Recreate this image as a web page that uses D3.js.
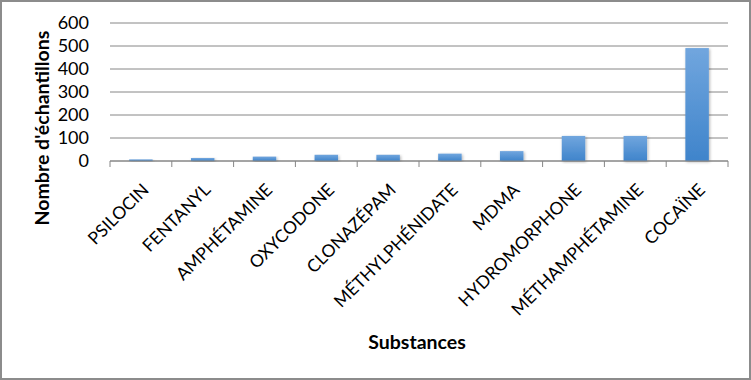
<!DOCTYPE html>
<html>
<head>
<meta charset="utf-8">
<script src="https://cdn.jsdelivr.net/npm/d3@7"></script>
<style>
  body { margin: 0; background: #fff; }
  svg { display: block; }
</style>
</head>
<body>
<div id="chart"></div>
<script>
const substances = ['PSILOCIN', 'FENTANYL', 'AMPHÉTAMINE', 'OXYCODONE', 'CLONAZÉPAM',
  'MÉTHYLPHÉNIDATE', 'MDMA', 'HYDROMORPHONE', 'MÉTHAMPHÉTAMINE', 'COCAÏNE'];
const counts = [7, 13, 19, 27, 27, 32, 43, 109, 109, 491];
const yTicks = [0, 100, 200, 300, 400, 500, 600];

const width = 751, height = 380;
const margin = {top: 23, right: 23, bottom: 219, left: 110};
const font = 'Lato, "Open Sans", sans-serif';

const svg = d3.select('#chart').append('svg')
  .attr('width', width)
  .attr('height', height);

// outer frame
svg.append('rect')
  .attr('x', 1).attr('y', 1)
  .attr('width', width - 2).attr('height', height - 2)
  .attr('fill', '#fff')
  .attr('stroke', '#8c8c8c')
  .attr('stroke-width', 2);

const defs = svg.append('defs');
const grad = defs.append('linearGradient')
  .attr('id', 'barGrad')
  .attr('x1', 0).attr('y1', 0).attr('x2', 0).attr('y2', 1);
grad.append('stop').attr('offset', '0%').attr('stop-color', '#71a6de');
grad.append('stop').attr('offset', '100%').attr('stop-color', '#3f84cb');

const shadow = defs.append('filter').attr('id', 'shadow')
  .attr('x', '-30%').attr('y', '-10%').attr('width', '160%').attr('height', '120%');
shadow.append('feDropShadow')
  .attr('dx', 1).attr('dy', 1).attr('stdDeviation', 1.5)
  .attr('flood-color', '#000').attr('flood-opacity', 0.3);

const x = d3.scaleBand()
  .domain(substances)
  .range([margin.left, width - margin.right])
  .paddingInner(0.62)
  .paddingOuter(0.31);

const y = d3.scaleLinear()
  .domain([0, 600])
  .range([height - margin.bottom, margin.top]);

// gridlines
svg.append('g')
  .selectAll('line')
  .data(yTicks)
  .enter().append('line')
  .attr('x1', margin.left)
  .attr('x2', width - margin.right)
  .attr('y1', d => y(d))
  .attr('y2', d => y(d))
  .attr('stroke', '#868686')
  .attr('stroke-width', 1);

// y tick labels
svg.append('g')
  .selectAll('text')
  .data(yTicks)
  .enter().append('text')
  .attr('x', margin.left - 21)
  .attr('y', d => y(d))
  .attr('dy', '0.36em')
  .attr('text-anchor', 'end')
  .style('font-family', font)
  .style('font-size', '18px')
  .attr('fill', '#000')
  .text(d => d);

// bars
svg.append('g')
  .selectAll('rect')
  .data(counts)
  .enter().append('rect')
  .attr('x', (d, i) => x(substances[i]))
  .attr('y', d => y(d))
  .attr('width', x.bandwidth())
  .attr('height', d => y(0) - y(d))
  .attr('fill', 'url(#barGrad)')
  .attr('filter', 'url(#shadow)');

// x axis with tick marks between categories
const xAxisG = svg.append('g')
  .attr('transform', 'translate(0,' + y(0) + ')');
xAxisG.append('line')
  .attr('x1', margin.left).attr('x2', width - margin.right)
  .attr('stroke', '#868686');
const step = x.step();
xAxisG.selectAll('.tick')
  .data(d3.range(substances.length + 1))
  .enter().append('line')
  .attr('x1', i => margin.left + i * step)
  .attr('x2', i => margin.left + i * step)
  .attr('y1', 0).attr('y2', 6)
  .attr('stroke', '#868686');

// category labels
svg.append('g')
  .selectAll('text')
  .data(substances)
  .enter().append('text')
  .attr('transform', d => 'translate(' + (x(d) + x.bandwidth() / 2 + 9) + ',' + (y(0) + 30) + ') rotate(-45)')
  .attr('text-anchor', 'end')
  .style('font-family', font)
  .style('font-size', '17.5px')
  .attr('fill', '#000')
  .text(d => d);

// axis titles
svg.append('text')
  .attr('transform', 'translate(49,128) rotate(-90)')
  .attr('text-anchor', 'middle')
  .style('font-family', font)
  .style('font-size', '19.5px')
  .style('font-weight', 'bold')
  .text("Nombre d'échantillons");

svg.append('text')
  .attr('x', 417)
  .attr('y', 349)
  .attr('text-anchor', 'middle')
  .style('font-family', font)
  .style('font-size', '19.5px')
  .style('font-weight', 'bold')
  .text('Substances');
</script>
</body>
</html>
